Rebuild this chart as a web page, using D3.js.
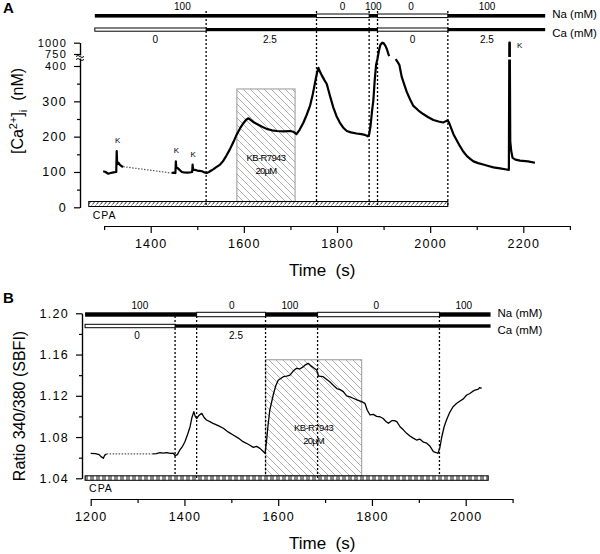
<!DOCTYPE html>
<html><head><meta charset="utf-8">
<script src="https://cdn.jsdelivr.net/npm/d3@7"></script>
<style>
body{margin:0;background:#fff;}
svg{display:block;font-family:Arial,'Liberation Sans',sans-serif;}
</style></head><body>
<svg id="c" width="600" height="554"></svg>
<script>
// ---------- DATA ----------
// Panel A : [Ca2+]i (nM) vs time (s)
const traceA1 = [[1298,102],[1303,100],[1309,95],[1314,97],[1320,99],[1326,100],[1327,159],[1328,122],[1331,126],[1334,120],[1338,116],[1341,115]];
const gapA = [[1341,115],[1445,97]];
const traceA2 = [[1445,97],[1449,98],[1453,97],[1454,130],[1455,112],[1458,111],[1462,106],[1467,100],[1472,99],[1478,98],[1484,99],[1489,100],[1490,121],[1491,106],[1495,106],[1500,104],[1505,103],[1510,102],[1515,99],[1520,97],[1525,100],[1530,104],[1535,108],[1540,113],[1549,121],[1555,130],[1562,145],[1570,164],[1578,186],[1585,207],[1592,224],[1599,238],[1605,248],[1610,252],[1616,246],[1622,240],[1628,236],[1638,229],[1649,222],[1660,218],[1671,216],[1685,215],[1699,216],[1706,214],[1713,207],[1720,220],[1728,240],[1735,262],[1742,287],[1748,320],[1753,354],[1757,380],[1760,395],[1763,385],[1768,372],[1773,360],[1778,349],[1785,315],[1792,283],[1799,258],[1806,240],[1813,226],[1821,216],[1830,212],[1842,209],[1852,207],[1860,205],[1866,201],[1869,206],[1872,230],[1875,270],[1878,302],[1881,360],[1884,440],[1887,620],[1890,820],[1893,950],[1897,1000],[1900,990],[1904,930],[1907,860],[1910,760],[1912,690]];
const traceA3 = [[1926,600],[1930,520],[1934,430],[1939,369],[1945,345],[1950,326],[1957,305],[1964,287],[1975,274],[1985,264],[1996,255],[2007,247],[2018,243],[2028,240],[2034,244],[2038,246],[2042,235],[2050,207],[2057,190],[2064,173],[2071,158],[2079,145],[2086,137],[2093,130],[2103,125],[2114,121],[2125,117],[2136,113],[2150,110],[2164,107],[2169,106],[2170,1000],[2171,1000],[2172,187],[2174,160],[2177,140],[2183,135],[2193,132],[2210,130],[2225,126]];
const kA = [[1329,165],[1455,136],[1491,126],[2192,1000]];
const naEdgesA = [1280,1756,1869,1887,2038,2247];
const naValsA = [100,0,100,0,100];
const naLabelAtA = [1468,1812,1878,1959,2122];
const caEdgesA = [1280,1519,1887,2038,2247];
const caValsA = [0,2.5,0,2.5];
const caLabelAtA = [1410,1656,1962,2122];
const switchA = [1519,1756,1869,1887,2038];
const cpaA = [1267,2038];
const kbA = [1585,1710,335];
const xTicksA = [1400,1600,1800,2000,2200];
const xMinorA = [1300,1500,1700,1900,2100,2300];
const yTicksA = [0,100,200,300];
const yTicksBrokenA = [400,750,1000];
const yMinorA = [50,150,250,350];

// Panel B : Ratio 340/380 (SBFI) vs time (s)
const traceB1 = [[1200,1.0642],[1210,1.0640],[1218,1.0630],[1222,1.0610],[1227,1.0594],[1230,1.0625],[1234,1.0636]];
const gapB = [[1234,1.0636],[1333,1.0636]];
const traceB2 = [[1333,1.0636],[1340,1.0640],[1348,1.0648],[1355,1.0645],[1362,1.0650],[1370,1.0642],[1376,1.0645],[1380,1.0620],[1385,1.0630],[1390,1.0674],[1396,1.0710],[1401,1.0755],[1407,1.0830],[1412,1.0900],[1416,1.0990],[1420,1.1046],[1423,1.1000],[1426,1.0980],[1431,1.1010],[1437,1.1030],[1442,1.0990],[1447,1.0965],[1454,1.0950],[1461,1.0933],[1472,1.0910],[1483,1.0885],[1493,1.0850],[1504,1.0820],[1515,1.0790],[1525,1.0755],[1536,1.0730],[1547,1.0700],[1554,1.0710],[1561,1.0690],[1567,1.0665],[1572,1.0642],[1575,1.0755],[1578,1.0900],[1582,1.1060],[1586,1.1140],[1590,1.1220],[1595,1.1300],[1600,1.1350],[1606,1.1370],[1611,1.1385],[1618,1.1390],[1625,1.1400],[1632,1.1440],[1639,1.1467],[1646,1.1460],[1653,1.1480],[1658,1.1500],[1664,1.1515],[1670,1.1490],[1676,1.1470],[1682,1.1450],[1686,1.1390],[1696,1.1385],[1703,1.1360],[1710,1.1337],[1718,1.1300],[1725,1.1270],[1732,1.1260],[1739,1.1240],[1746,1.1200],[1753,1.1190],[1760,1.1176],[1768,1.1160],[1774,1.1150],[1778,1.1143],[1785,1.1127],[1790,1.1060],[1796,1.1014],[1803,1.1020],[1810,1.1000],[1817,1.0997],[1824,1.0980],[1830,1.0950],[1835,1.0933],[1843,1.0960],[1848,1.0960],[1853,1.0949],[1860,1.0900],[1867,1.0870],[1874,1.0836],[1881,1.0810],[1888,1.0790],[1895,1.0771],[1902,1.0780],[1910,1.0750],[1917,1.0740],[1924,1.0710],[1931,1.0658],[1937,1.0650],[1941,1.0642],[1945,1.0700],[1949,1.0803],[1954,1.0900],[1959,1.0965],[1966,1.1040],[1973,1.1094],[1981,1.1127],[1988,1.1150],[1995,1.1170],[2002,1.1208],[2008,1.1220],[2014,1.1240],[2020,1.1256],[2027,1.1265],[2030,1.1280],[2034,1.1273]];
const naEdgesB = [1188,1426,1573,1684,1944,2053];
const naValsB = [100,0,100,0,100];
const naLabelAtB = [1305,1501,1625,1809,1996];
const caEdgesB = [1188,1380,2053];
const caValsB = [0,2.5];
const caLabelAtB = [1299,1510];
const switchB = [1380,1426,1573,1684,1944];
const cpaB = [1188,2048];
const kbB = [1573,1778,1.155];
const xTicksB = [1200,1400,1600,1800,2000];
const xMinorB = [1300,1500,1700,1900,2100];
const yTicksB = [1.04,1.08,1.12,1.16,1.20];
const yMinorB = [1.06,1.10,1.14,1.18];

// ---------- DRAW ----------
const svg = d3.select('#c');
const defs = svg.append('defs');
function hatch(id, size, color, w){
  const p = defs.append('pattern').attr('id',id).attr('patternUnits','userSpaceOnUse')
    .attr('width',size).attr('height',size);
  p.append('path').attr('d',`M0,0 L${size},${size} M${-size},0 L${size},${2*size} M0,${-size} L${2*size},${size}`)
    .attr('stroke',color).attr('stroke-width',w);
}
hatch('kb',7,'#9a9a9a',0.8);
const pc = defs.append('pattern').attr('id','cpaA').attr('patternUnits','userSpaceOnUse').attr('width',4).attr('height',5);
pc.append('path').attr('d','M0.5,4.5 L3.5,0.5').attr('stroke','#000').attr('stroke-width',0.8);
const pb = defs.append('pattern').attr('id','cpaB').attr('patternUnits','userSpaceOnUse').attr('width',6).attr('height',5);
pb.append('rect').attr('x',0).attr('y',0).attr('width',4).attr('height',5).attr('fill','#8a8a8a');

const FONT = "Arial,'Liberation Sans',sans-serif";

function panel(o){
  const g = svg.append('g');
  const x = o.x, y = o.y;
  // KB box
  const kbX0 = x(o.kb[0]), kbX1 = x(o.kb[1]), kbY = y(o.kb[2]);
  g.append('rect').attr('x',kbX0).attr('y',kbY).attr('width',kbX1-kbX0).attr('height',o.cpaY-kbY)
    .attr('fill','url(#kb)').attr('stroke','#a8a8a8').attr('stroke-width',1.2);
  const kc = (kbX0+kbX1)/2;
  g.append('text').attr('x',kc).attr('y',o.kbTextY).attr('text-anchor','middle').attr('font-size',9.5)
    .attr('letter-spacing',-0.6).attr('font-family',FONT).text('KB-R7943');
  g.append('text').attr('x',kc).attr('y',o.kbTextY+13).attr('text-anchor','middle').attr('font-size',9.5)
    .attr('letter-spacing',-0.8).attr('font-family',FONT).text('20\u00b5M');
  // switch lines
  g.selectAll('line.sw').data(o.switches).join('line').attr('class','sw')
    .attr('x1',d=>x(d)).attr('x2',d=>x(d)).attr('y1',o.swTop).attr('y2',o.swBot)
    .attr('stroke','#000').attr('stroke-width',1.3).attr('stroke-dasharray','2,2');
  // CPA bar
  g.append('rect').attr('x',x(o.cpa[0])).attr('y',o.cpaY).attr('width',x(o.cpa[1])-x(o.cpa[0])).attr('height',o.cpaH)
    .attr('fill',o.cpaFill).attr('stroke','#000').attr('stroke-width',1);
  g.append('text').attr('x',x(o.cpa[0])+4).attr('y',o.cpaLabelY).attr('font-size',10.5).attr('letter-spacing',1)
    .attr('font-family',FONT).text('CPA');
  // solution bars
  function bar(edges, vals, yc, h, labelAt, labelY){
    vals.forEach((v,i)=>{
      const on = v>0;
      g.append('rect').attr('x',x(edges[i])).attr('y',yc-h/2).attr('width',x(edges[i+1])-x(edges[i])).attr('height',h)
        .attr('fill',on?'#000':'#fff').attr('stroke','#000').attr('stroke-width',on?0:1);
    });
    g.selectAll(null).data(vals).join('text').attr('x',(d,i)=>x(labelAt[i])).attr('y',labelY)
      .attr('text-anchor','middle').attr('font-size',10).attr('font-family',FONT).text(d=>d);
  }
  bar(o.naEdges,o.naVals,o.naY,o.naH,o.naLabelAt,o.naY-6);
  bar(o.caEdges,o.caVals,o.caY,o.caH,o.caLabelAt,o.caY+13);
  g.append('text').attr('x',x(o.naEdges[o.naEdges.length-1])+7).attr('y',o.naY+2.5).attr('font-size',11.5).attr('font-family',FONT).text('Na (mM)');
  g.append('text').attr('x',x(o.caEdges[o.caEdges.length-1])+7).attr('y',o.caY+7.5).attr('font-size',11.5).attr('font-family',FONT).text('Ca (mM)');
  // traces
  const line = d3.line().x(d=>x(d[0])).y(d=>y(d[1]));
  o.traces.forEach(t=>{
    g.append('path').datum(t).attr('d',line).attr('fill','none').attr('stroke','#000')
      .attr('stroke-width',o.tw).attr('stroke-linejoin','round');
  });
  g.append('path').datum(o.gap).attr('d',line).attr('fill','none').attr('stroke','#555')
    .attr('stroke-width',1.2).attr('stroke-dasharray','1.5,1.5');
  // axes
  const xa = d3.scaleLinear().domain(o.xAxisDom).range(o.xAxisDom.map(x));
  const ax = g.append('g').attr('transform',`translate(0,${o.xAxisY})`)
    .call(d3.axisBottom(xa).tickValues(o.xTicks).tickSize(7).tickSizeOuter(0).tickPadding(6).tickFormat(d3.format('d')));
  g.append('g').attr('transform',`translate(0,${o.xAxisY})`)
    .call(d3.axisBottom(xa).tickValues(o.xMinor).tickSize(4).tickSizeOuter(0).tickFormat(''));
  ax.selectAll('text').attr('font-size',12.5).attr('letter-spacing',1.2).attr('font-family',FONT).attr('fill','#000');
  const ay = g.append('g').attr('transform',`translate(${o.yAxisX},0)`)
    .call(d3.axisLeft(y).tickValues(o.yTicks).tickSize(6).tickSizeOuter(0).tickPadding(7).tickFormat(o.yFmt));
  g.append('g').attr('transform',`translate(${o.yAxisX},0)`)
    .call(d3.axisLeft(y).tickValues(o.yMinor).tickSize(3).tickSizeOuter(0).tickFormat(''));
  ay.selectAll('text').attr('font-size',12.5).attr('letter-spacing',1.3).attr('font-family',FONT).attr('fill','#000');
  if (o.yTicks2) {
    const ay2 = g.append('g').attr('transform',`translate(${o.yAxisX},0)`)
      .call(d3.axisLeft(y).tickValues(o.yTicks2).tickSize(6).tickSizeOuter(0).tickPadding(7).tickFormat(o.yFmt));
    ay2.select('.domain').remove();
    ay2.selectAll('text').attr('font-size',11).attr('letter-spacing',1.2).attr('font-family',FONT).attr('fill','#000');
  }
  g.selectAll('.domain, .tick line').attr('stroke','#000').attr('stroke-width',1.2);
  // x title
  g.append('text').attr('x',o.titleX).attr('y',o.titleY).attr('font-size',17).attr('font-family',FONT)
    .text('Time\u00a0 (s)');
  g.append('text').attr('x',3).attr('y',o.letterY).attr('font-size',15).attr('font-weight','bold').attr('font-family',FONT).text(o.letter);
  return g;
}

const xA = d3.scaleLinear().domain([1400,2200]).range([150.7,523.3]);
const yA = d3.scaleLinear().domain([0,400,750,1000]).range([207.3,66,54,42.7]);
const gA = panel({
  x:xA, y:yA, kb:kbA, cpaY:201.5, cpaH:5, cpaFill:'url(#cpaA)', cpaLabelY:219, kbTextY:161,
  switches:switchA, swTop:11, swBot:207, cpa:cpaA,
  naEdges:naEdgesA, naVals:naValsA, naY:15.8, naH:3.6, naLabelAt:naLabelAtA,
  caEdges:caEdgesA, caVals:caValsA, caY:29.6, caH:3.2, caLabelAt:caLabelAtA,
  traces:[traceA1,traceA2,traceA3], gap:gapA, tw:2.2,
  xAxisDom:[1300,2300], xAxisY:226, xTicks:xTicksA, xMinor:xMinorA,
  yAxisX:80, yTicks:yTicksA, yTicks2:yTicksBrokenA, yMinor:yMinorA, yFmt:d3.format('d'),
  titleX:289, titleY:276, letter:'A', letterY:13
});
// axis break marks
gA.append('rect').attr('x',77).attr('y',55.5).attr('width',6).attr('height',3).attr('fill','#fff');
gA.append('path').attr('d','M76,56.5 q2,-2 4,0 t4,0 M76,59.5 q2,-2 4,0 t4,0').attr('fill','none').attr('stroke','#000').attr('stroke-width',1);
// white gap in the K spike at the break
gA.append('rect').attr('x',xA(2169.5)-2).attr('y',57).attr('width',5).attr('height',2.5).attr('fill','#fff');
// K labels
gA.selectAll('text.k').data(kA).join('text').attr('class','k').attr('x',d=>xA(d[0])).attr('y',d=>d[1]>=1000?48:yA(d[1])-6)
  .attr('text-anchor','middle').attr('font-size',8).attr('font-family',FONT).text('K');
// y title A
gA.append('text').attr('transform','translate(23,111) rotate(-90)').attr('text-anchor','middle')
  .attr('font-size',16).attr('font-family',FONT)
  .call(t=>{
    t.append('tspan').text('[Ca');
    t.append('tspan').attr('font-size',11).attr('dy',-6).text('2+');
    t.append('tspan').attr('dy',6).text(']');
    t.append('tspan').attr('font-size',11).attr('dy',4).text('i');
    t.append('tspan').attr('dy',-4).text('\u00a0\u00a0(nM)');
  });

const xB = d3.scaleLinear().domain([1200,2000]).range([90.7,465.7]);
const yB = d3.scaleLinear().domain([1.04,1.20]).range([478.3,313.3]);
const gB = panel({
  x:xB, y:yB, kb:kbB, cpaY:475.8, cpaH:4.5, cpaFill:'url(#cpaB)', cpaLabelY:492, kbTextY:431,
  switches:switchB, swTop:316, swBot:480, cpa:cpaB,
  naEdges:naEdgesB, naVals:naValsB, naY:314.5, naH:4.4, naLabelAt:naLabelAtB,
  caEdges:caEdgesB, caVals:caValsB, caY:326, caH:3.4, caLabelAt:caLabelAtB,
  traces:[traceB1,traceB2], gap:gapB, tw:1.3,
  xAxisDom:[1200,2100], xAxisY:499, xTicks:xTicksB, xMinor:xMinorB,
  yAxisX:82, yTicks:yTicksB, yMinor:yMinorB, yFmt:d3.format('.2f'),
  titleX:289, titleY:549, letter:'B', letterY:303
});
gB.append('text').attr('transform','translate(25,406) rotate(-90)').attr('text-anchor','middle')
  .attr('font-size',16).attr('font-family',FONT).text('Ratio 340/380 (SBFI)');
</script>
</body></html>
